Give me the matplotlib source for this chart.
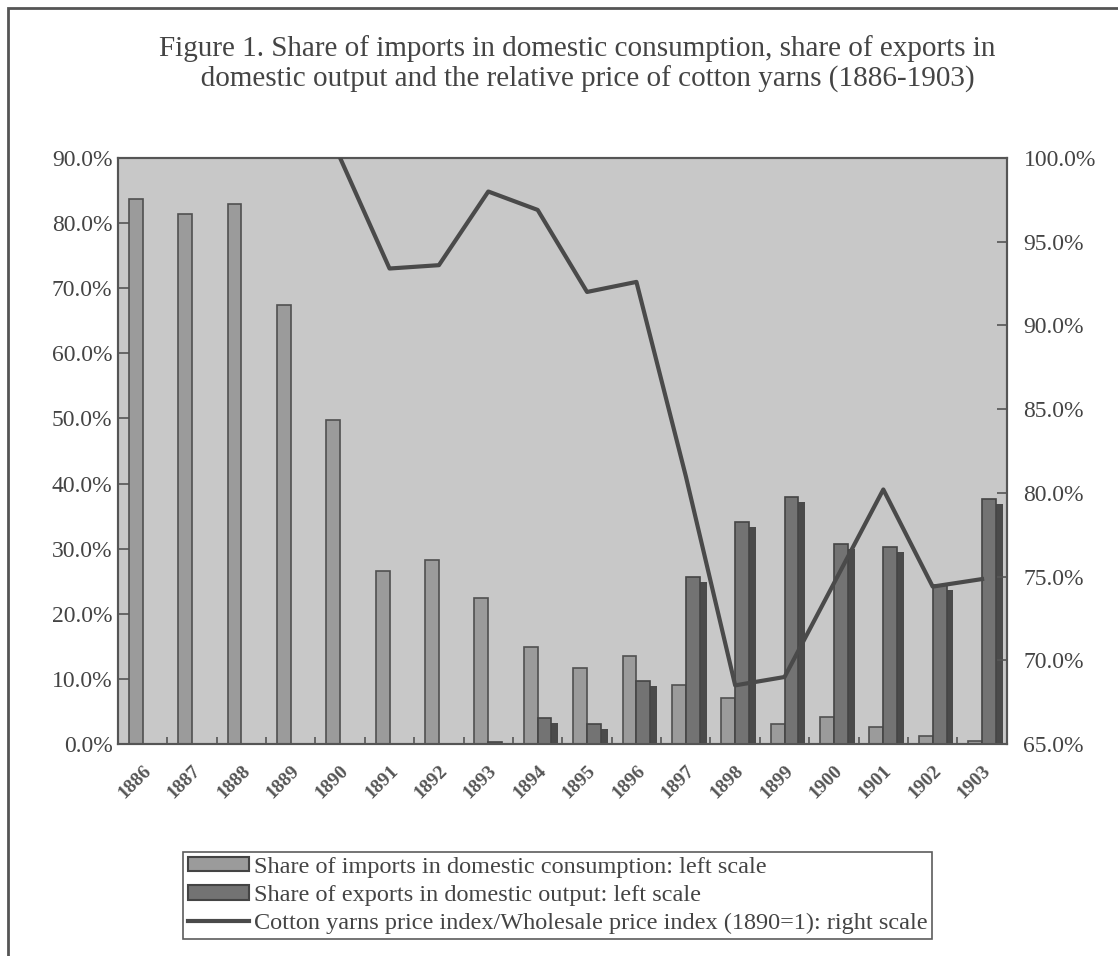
import numpy as np
import matplotlib.pyplot as plt
import matplotlib.patheffects as pe
from matplotlib.patches import Rectangle, Patch
from matplotlib.lines import Line2D
from matplotlib.ticker import FuncFormatter, FixedLocator

years = [str(y) for y in range(1886, 1904)]

# share of imports in domestic consumption (%), left scale
imports = [83.7, 81.4, 82.9, 67.4, 49.8, 26.6, 28.2, 22.4, 14.9, 11.6,
           13.5, 9.1, 7.1, 3.1, 4.2, 2.6, 1.2, 0.4]
# share of exports in domestic output (%), left scale
exports = [0, 0, 0, 0, 0, 0, 0, 0.3, 4.0, 3.0,
           9.7, 25.7, 34.1, 37.9, 30.7, 30.3, 24.4, 37.6]
# cotton yarns price index / wholesale price index (1890=1), right scale
price = [np.nan, np.nan, np.nan, np.nan, 100.0, 93.4, 93.6, 98.0, 96.9, 92.0,
         92.6, 81.0, 68.5, 69.0, 74.6, 80.2, 74.4, 74.85]

plt.rcParams['font.family'] = ['Liberation Serif', 'DejaVu Serif']
txt = '#444444'
imp_col, exp_col, line_col = '#9b9b9b', '#737373', '#4a4a4a'

fig = plt.figure(figsize=(11.18, 9.56), dpi=100)
ax = fig.add_axes([0.1055, 0.2218, 0.795, 0.6129])
ax.set_facecolor('#c8c8c8')

x = np.arange(len(years))
w = 0.28
ax.bar(x - 0.14, imports, width=w, color=imp_col, edgecolor='#505050',
       linewidth=1.2, zorder=2)
ex = ax.bar(x + 0.14, exports, width=w, color=exp_col, edgecolor='#454545',
            linewidth=1.2, zorder=3)
for b in ex:
    b.set_path_effects([pe.SimplePatchShadow(offset=(5, -3.5), shadow_rgbFace='#4a4a4a', alpha=1.0),
                        pe.Normal()])

ax.set_xlim(-0.5, len(years) - 0.5)
ax.set_ylim(0, 90)
ax.set_yticks(np.arange(0, 91, 10))
ax.yaxis.set_major_formatter(FuncFormatter(lambda v, p: f'{v:.1f}%'))
ax.tick_params(axis='y', direction='in', length=10, width=1.2, color='#555555',
               labelsize=17, labelcolor=txt, pad=4)

ax.set_xticks(x)
ax.set_xticklabels(years, rotation=45, ha='right', va='top', rotation_mode='anchor',
                   fontsize=14, fontweight='bold', color='#555555')
ax.tick_params(axis='x', which='major', length=0, pad=13)
ax.xaxis.set_minor_locator(FixedLocator(x[1:] - 0.5))
ax.tick_params(axis='x', which='minor', direction='in', length=5, width=1.2, color='#555555')
for s in ax.spines.values():
    s.set_color('#555555')
    s.set_linewidth(1.5)

ax2 = ax.twinx()
ax2.plot(x, price, color=line_col, linewidth=3, zorder=4)
ax2.set_ylim(65, 100)
ax2.set_yticks(np.arange(65, 101, 5))
ax2.yaxis.set_major_formatter(FuncFormatter(lambda v, p: f'{v:.1f}%'))
ax2.tick_params(axis='y', direction='in', length=7, width=1.2, color='#555555',
                labelsize=17, labelcolor=txt, pad=12)
for s in ax2.spines.values():
    s.set_color('#555555')
    s.set_linewidth(1.5)

fig.text(0.516, 0.933,
         'Figure 1. Share of imports in domestic consumption, share of exports in\n'
         '   domestic output and the relative price of cotton yarns (1886-1903)',
         ha='center', va='center', fontsize=21, color=txt, linespacing=1.22)

handles = [Patch(facecolor=imp_col, edgecolor='#444444', linewidth=1.5),
           Patch(facecolor=exp_col, edgecolor='#444444', linewidth=1.5),
           Line2D([], [], color=line_col, linewidth=3)]
labels = ['Share of imports in domestic consumption: left scale',
          'Share of exports in domestic output: left scale',
          'Cotton yarns price index/Wholesale price index (1890=1): right scale']
leg = fig.legend(handles, labels, loc='upper left', bbox_to_anchor=(0.1637, 0.109),
                 fontsize=17.5, frameon=True, fancybox=False, handlelength=2.5,
                 handleheight=0.55, handletextpad=0.2, labelspacing=0.3,
                 borderpad=0.2, borderaxespad=0)
leg.get_frame().set_edgecolor('#333333')
leg.get_frame().set_linewidth(1.2)
for t in leg.get_texts():
    t.set_color(txt)

# outer frame of the figure
fig.patches.append(Rectangle((0.007, -0.01), 1.1, 1.002, transform=fig.transFigure,
                             fill=False, edgecolor='#555555', linewidth=2, clip_on=False))

fig.savefig('out.png', dpi=100, facecolor='white')
